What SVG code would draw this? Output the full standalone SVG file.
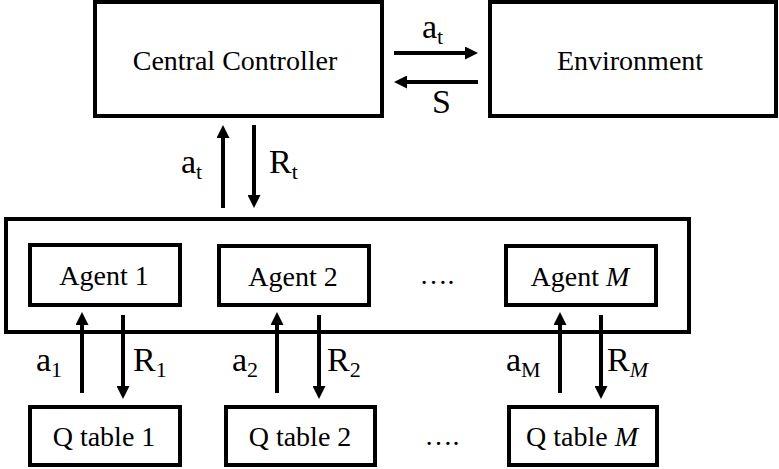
<svg xmlns="http://www.w3.org/2000/svg" width="779" height="469" viewBox="0 0 779 469">
<style>
.box{fill:#fff;stroke:#000;stroke-width:4}
.t{font-size:28px;text-anchor:middle}
.lb{font-size:34px}
.sub{font-size:22px}
.arr{stroke:#000;stroke-width:4;fill:none;marker-end:url(#ah)}
</style>
<defs>
<marker id="ah" viewBox="0 0 13 13" markerWidth="13" markerHeight="13" refX="5" refY="6.5" orient="auto" markerUnits="userSpaceOnUse">
<path d="M0,0 L13,6.5 L0,13 z" fill="#000"/>
</marker>
</defs>
<rect width="779" height="469" fill="#fff"/>
<g font-family="Liberation Serif, Times New Roman, serif" fill="#000">
<g id="agents-group"><rect class="box" x="6" y="219" width="683" height="113"/></g>
<g id="central-controller"><rect class="box" x="95" y="2" width="287" height="114"/><text class="t" x="235" y="70">Central Controller</text></g>
<g id="environment"><rect class="box" x="490" y="2" width="286" height="114"/><text class="t" x="630" y="70">Environment</text></g>
<g id="agent-1"><rect class="box" x="30" y="245" width="150" height="60"/><text class="t" x="104" y="285">Agent 1</text></g>
<g id="agent-2"><rect class="box" x="219" y="246" width="150" height="59"/><text class="t" x="293" y="286">Agent 2</text></g>
<g id="agent-dots"><text class="t" x="437" y="284">….</text></g>
<g id="agent-m"><rect class="box" x="506" y="246" width="150" height="59"/><text class="t" x="580" y="286">Agent <tspan font-style="italic">M</tspan></text></g>
<g id="qtable-1"><rect class="box" x="30" y="407" width="150" height="58"/><text class="t" x="104" y="446">Q table 1</text></g>
<g id="qtable-2"><rect class="box" x="226" y="407" width="149" height="58"/><text class="t" x="300" y="446">Q table 2</text></g>
<g id="qtable-dots"><text class="t" x="442" y="445">….</text></g>
<g id="qtable-m"><rect class="box" x="509" y="407" width="148" height="58"/><text class="t" x="582" y="446">Q table <tspan font-style="italic">M</tspan></text></g>
<g id="connectors">
<line class="arr" x1="394" y1="53" x2="470" y2="53"/>
<line class="arr" x1="478" y1="82" x2="402" y2="82"/>
<line class="arr" x1="223" y1="208" x2="223" y2="133"/>
<line class="arr" x1="254" y1="125" x2="254" y2="200"/>
<line class="arr" x1="82" y1="393" x2="82" y2="320"/>
<line class="arr" x1="123" y1="315" x2="123" y2="391"/>
<line class="arr" x1="277" y1="393" x2="277" y2="320"/>
<line class="arr" x1="319" y1="315" x2="319" y2="391"/>
<line class="arr" x1="560" y1="393" x2="560" y2="320"/>
<line class="arr" x1="601" y1="315" x2="601" y2="391"/>
<text class="lb" x="422" y="38">a<tspan class="sub" dy="6">t</tspan></text>
<text class="lb" x="432" y="113">S</text>
<text class="lb" x="181" y="173">a<tspan class="sub" dy="6">t</tspan></text>
<text class="lb" x="269" y="173">R<tspan class="sub" dy="6">t</tspan></text>
<text class="lb" x="36" y="371">a<tspan class="sub" dy="6">1</tspan></text>
<text class="lb" x="133" y="371">R<tspan class="sub" dy="6">1</tspan></text>
<text class="lb" x="232" y="371">a<tspan class="sub" dy="6">2</tspan></text>
<text class="lb" x="327" y="371">R<tspan class="sub" dy="6">2</tspan></text>
<text class="lb" x="506" y="371">a<tspan class="sub" dy="6">M</tspan></text>
<text class="lb" x="607" y="371">R<tspan class="sub" dy="6" font-style="italic">M</tspan></text>
</g>
</g>
</svg>
